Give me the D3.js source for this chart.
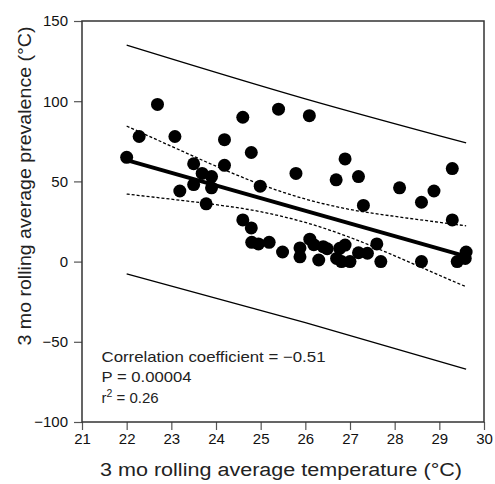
<!DOCTYPE html>
<html>
<head>
<meta charset="utf-8">
<script src="https://cdn.jsdelivr.net/npm/d3@7"></script>
<style>
  html, body { margin: 0; padding: 0; background: #fff; }
  svg { display: block; font-family: "Liberation Sans", Arial, Helvetica, sans-serif; }
</style>
</head>
<body>
<div id="chart"></div>
<script>
// observations: 3 mo rolling average temperature vs prevalence
const temperature = [
  22.00, 22.28, 22.69, 23.08, 23.19, 23.50, 23.50, 23.69, 23.90, 23.90,
  23.78, 24.19, 24.19, 24.60, 24.79, 24.99, 24.60, 24.79, 24.80, 24.95,
  25.19, 25.49, 25.40, 25.79, 25.88, 25.88, 26.09, 26.10, 26.19, 26.40,
  26.49, 26.30, 26.70, 26.77, 26.89, 26.81, 27.00, 26.89, 26.69, 27.19,
  27.30, 27.19, 27.39, 27.60, 27.69, 28.11, 28.60, 28.60, 28.88, 29.29,
  29.29, 29.40, 29.60, 29.58
];
const prevalence = [
  65, 78, 98, 78, 44, 61, 48, 55, 53, 46,
  36, 76, 60, 90, 68, 47, 26, 21, 12, 11,
  12, 6, 95, 55, 8.5, 3, 91, 14, 10.5, 9.3,
  8, 1, 2, 8.3, 10.3, 0, 0, 64, 51, 53,
  35, 5.5, 5.2, 11, 0, 46, 37, 0, 44, 58,
  26, 0, 6, 2
];

// regression line
const fitT = [22, 29.6];
const fitV = [63.3, 3.3];

// confidence band (dotted)
const bandT   = [22, 23, 24, 25, 26, 27, 28, 29, 29.6];
const ciUpper = [84.5, 71.9, 59.5, 48.1, 39.0, 32.5, 28.2, 24.5, 22.3];
const ciLower = [42.1, 38.9, 35.5, 31.1, 24.4, 15.1, 3.6, -8.5, -15.7];

// prediction band (thin solid)
const predT     = [22, 26, 29.6];
const predUpper = [135, 101.5, 74];
const predLower = [-7.7, -38, -67];

const xTicks = [21, 22, 23, 24, 25, 26, 27, 28, 29, 30];
const yTicks = [-100, -50, 0, 50, 100, 150];

const statLines = [
  { text: "Correlation coefficient = \u22120.51", len: 224 },
  { text: "P = 0.00004", len: 90 },
  { text: "r", sup: "2", rest: " = 0.26", len: 64 }
];

const width = 495, height = 484;
const margin = { top: 21, right: 11, bottom: 62, left: 82 };

const svg = d3.select("#chart").append("svg")
  .attr("width", width)
  .attr("height", height);

const x = d3.scaleLinear().domain([21, 30]).range([margin.left, width - margin.right]);
const y = d3.scaleLinear().domain([-100, 150]).range([height - margin.bottom, margin.top]);

const fmt = d => d < 0 ? "\u2212" + Math.abs(d) : String(d);

// axes
const xAxis = svg.append("g")
  .attr("transform", `translate(0,${y(-100)})`)
  .call(d3.axisBottom(x).tickValues(xTicks).tickSize(8).tickPadding(3).tickFormat(fmt));
const yAxis = svg.append("g")
  .attr("transform", `translate(${x(21)},0)`)
  .call(d3.axisLeft(y).tickValues(yTicks).tickSize(8).tickPadding(6).tickFormat(fmt));

[xAxis, yAxis].forEach(a => {
  a.select(".domain").remove();
  a.selectAll(".tick line").attr("stroke", "#555").attr("stroke-width", 1.2);
  a.selectAll(".tick text")
    .attr("fill", "#111")
    .style("font-size", "15px")
    .style("font-family", "'Liberation Sans', Arial, sans-serif");
});

// frame
svg.append("rect")
  .attr("x", x(21)).attr("y", y(150))
  .attr("width", x(30) - x(21)).attr("height", y(-100) - y(150))
  .attr("fill", "none")
  .attr("stroke", "#333")
  .attr("stroke-width", 1.5);

const line = d3.line().x(d => x(d[0])).y(d => y(d[1])).curve(d3.curveMonotoneX);

const plotG = svg.append("g");

// prediction interval
[predUpper, predLower].forEach(vals => {
  plotG.append("path")
    .attr("d", line(predT.map((t, i) => [t, vals[i]])))
    .attr("fill", "none")
    .attr("stroke", "#000")
    .attr("stroke-width", 1.3);
});

// confidence interval
[ciUpper, ciLower].forEach(vals => {
  plotG.append("path")
    .attr("d", line(bandT.map((t, i) => [t, vals[i]])))
    .attr("fill", "none")
    .attr("stroke", "#000")
    .attr("stroke-width", 1.3)
    .attr("stroke-dasharray", "3,2");
});

// fit
plotG.append("path")
  .attr("d", line(fitT.map((t, i) => [t, fitV[i]])))
  .attr("fill", "none")
  .attr("stroke", "#000")
  .attr("stroke-width", 4);

// points
plotG.selectAll("circle")
  .data(temperature.map((t, i) => ({ t, v: prevalence[i] })))
  .join("circle")
  .attr("cx", d => x(d.t))
  .attr("cy", d => y(d.v))
  .attr("r", 6.5)
  .attr("fill", "#000");

// stats text
const statG = svg.append("g").attr("fill", "#222").style("font-size", "15px");
statLines.forEach((s, i) => {
  const t = statG.append("text")
    .attr("x", 101.5)
    .attr("y", 361.5 + i * 20.5);
  if (s.sup) {
    t.append("tspan").text(s.text);
    t.append("tspan").text(s.sup).attr("dy", -6).style("font-size", "10.5px");
    t.append("tspan").text(s.rest).attr("dy", 6);
  } else {
    t.text(s.text).attr("textLength", s.len).attr("lengthAdjust", "spacingAndGlyphs");
  }
});

// axis titles
svg.append("text")
  .attr("x", 281)
  .attr("y", 476)
  .attr("text-anchor", "middle")
  .attr("fill", "#222")
  .style("font-size", "18px")
  .attr("textLength", 362)
  .attr("lengthAdjust", "spacingAndGlyphs")
  .text("3 mo rolling average temperature (\u00B0C)");

svg.append("text")
  .attr("transform", `translate(31,186) rotate(-90)`)
  .attr("text-anchor", "middle")
  .attr("fill", "#222")
  .style("font-size", "18px")
  .attr("textLength", 319)
  .attr("lengthAdjust", "spacingAndGlyphs")
  .text("3 mo rolling average prevalence (\u00B0C)");
</script>
</body>
</html>
